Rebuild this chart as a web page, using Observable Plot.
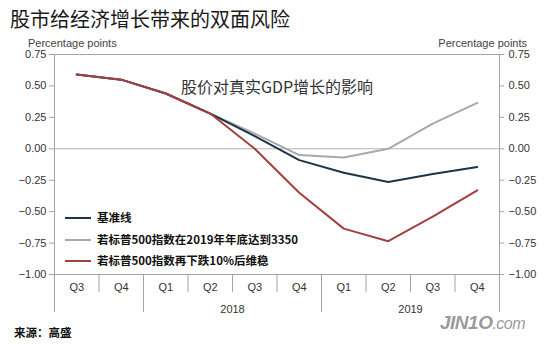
<!DOCTYPE html>
<html>
<head>
<meta charset="utf-8">
<script src="https://cdn.jsdelivr.net/npm/d3@7"></script>
<script src="https://cdn.jsdelivr.net/npm/@observablehq/plot@0.6"></script>
<style>
  body { margin: 0; background: #fff; }
  #wrap { position: relative; width: 550px; height: 344px; overflow: hidden; background: #fff; }
  #wrap svg { position: absolute; left: 0; top: 0; font-family: "Liberation Sans", Arial, sans-serif; }
  #wrap svg text.lat { font-family: "Liberation Sans", Arial, sans-serif; }
  .abs { position: absolute; white-space: nowrap; }
  .title { left: 10px; top: 9px; font: 400 20px/20px "Noto Sans CJK SC", sans-serif; color: #1a1a1a; }
  .pp { top: 36px; font: 400 11px/14px "Liberation Sans", Arial, sans-serif; color: #444; }
  .legend { left: 65px; font: 700 11.5px/14px "Noto Sans CJK SC", sans-serif; color: #111; }
  .legend .sw { display: inline-block; width: 26px; height: 2px; vertical-align: middle; margin-right: 6px; position: relative; top: -1px; }
  .source { left: 14px; top: 325px; font: 700 11.5px/14px "Noto Sans CJK SC", sans-serif; color: #111; }
  .logo { left: 440px; top: 313px; font: italic 700 19px/20px "Liberation Sans", Arial, sans-serif; color: #9b9b9b; letter-spacing: -0.5px; }
  .logo small { font: italic 400 16px/20px "Liberation Sans", Arial, sans-serif; color: #9b9b9b; }
</style>
</head>
<body>
<div id="wrap"></div>
<script>
// ---- data ----
const title = "股市给经济增长带来的双面风险";
const subtitle = "股价对真实GDP增长的影响";
const axisLabel = "Percentage points";
const source = "来源：高盛";
const quarters = ["Q3", "Q4", "Q1", "Q2", "Q3", "Q4", "Q1", "Q2", "Q3", "Q4"];
const years = [2017, 2017, 2018, 2018, 2018, 2018, 2019, 2019, 2019, 2019];
const yearLabels = ["", "2018", "2019"];
const yTicks = [0.75, 0.5, 0.25, 0, -0.25, -0.5, -0.75, -1];
const seriesNames = ["基准线", "若标普500指数在2019年年底达到3350", "若标普500指数再下跌10%后维稳"];
const baseline = [0.59, 0.55, 0.44, 0.28, 0.10, -0.09, -0.19, -0.265, -0.20, -0.145];
const spx3350 = [0.59, 0.55, 0.44, 0.28, 0.12, -0.05, -0.07, 0.00, 0.20, 0.365];
const drop10 = [0.59, 0.55, 0.44, 0.28, 0.00, -0.35, -0.635, -0.735, -0.54, -0.33];
const colors = ["#1d3449", "#a9a9a9", "#a2403f"];

// ---- derived tables ----
const seriesValues = [baseline, spx3350, drop10];
const rows = seriesValues.flatMap((vals, s) => vals.map((v, i) => ({s, i, v})));
const qRows = quarters.map((q, i) => ({q, i}));
const n = quarters.length;
const shortSeps = [], longSeps = [];
for (let b = 0; b <= n; b++) {
  const pos = b - 0.5;
  if (b === 0 || b === n || years[b] !== years[b - 1]) longSeps.push(pos);
  else shortSeps.push(pos);
}
const yearGroups = d3.groups(quarters.map((q, i) => ({i, y: years[i]})), d => d.y)
  .map(([y, arr], k) => ({label: yearLabels[k], x: d3.mean(arr, d => d.i)}))
  .filter(d => d.label);

const fmt = d3.format(".2f");
const axisColor = "#a3a3a3";
const latin = "Liberation Sans, Arial, sans-serif";

const chart = Plot.plot({
  width: 550,
  height: 344,
  marginTop: 54,
  marginBottom: 70,
  marginLeft: 54,
  marginRight: 51,
  x: {domain: [-0.5, n - 0.5], axis: null},
  y: {domain: [-1, 0.75], axis: null},
  style: {fontSize: "11px", color: "#333", background: "transparent"},
  marks: [
    Plot.frame({stroke: axisColor}),
    Plot.ruleY([0], {stroke: "#b3b3b3", strokeWidth: 1}),
    // y ticks both sides
    Plot.ruleY(yTicks, {x1: -0.5, x2: -0.5, insetLeft: -5, stroke: axisColor}),
    Plot.ruleY(yTicks, {x1: n - 0.5, x2: n - 0.5, insetRight: -5, stroke: axisColor}),
    Plot.text(yTicks, {x: -0.5, y: d => d, dx: -8, textAnchor: "end", text: d => fmt(d), fill: "#333", fontFamily: latin, fontSize: 11}),
    Plot.text(yTicks, {x: n - 0.5, y: d => d, dx: 9, textAnchor: "start", text: d => fmt(d), fill: "#333", fontFamily: latin, fontSize: 11}),
    // x axis separators
    Plot.ruleX(shortSeps, {x: d => d, y1: -1, y2: -1, insetBottom: -18, stroke: axisColor}),
    Plot.ruleX(longSeps, {x: d => d, y1: -1, y2: -1, insetBottom: -38, stroke: axisColor}),
    Plot.text(qRows, {x: "i", y: -1, dy: 13, text: "q", fill: "#333", fontFamily: latin, fontSize: 11}),
    Plot.text(yearGroups, {x: "x", y: -1, dy: 35, text: "label", fill: "#333", fontFamily: latin, fontSize: 11}),
    // subtitle
    Plot.text([subtitle], {frameAnchor: "top", dy: 27, text: d => d, fontSize: 16, fill: "#333",
      fontFamily: "Noto Sans CJK SC, sans-serif"}),
    // series lines
    Plot.line(rows.filter(d => d.s === 1), {x: "i", y: "v", stroke: colors[1], strokeWidth: 2}),
    Plot.line(rows.filter(d => d.s === 0), {x: "i", y: "v", stroke: colors[0], strokeWidth: 2}),
    Plot.line(rows.filter(d => d.s === 2), {x: "i", y: "v", stroke: colors[2], strokeWidth: 2})
  ]
});

const wrap = document.getElementById("wrap");
wrap.appendChild(chart);

function addDiv(cls, html, style) {
  const d = document.createElement("div");
  d.className = "abs " + cls;
  d.innerHTML = html;
  if (style) Object.assign(d.style, style);
  wrap.appendChild(d);
  return d;
}
addDiv("title", title);
addDiv("pp", axisLabel, {left: "28px"});
addDiv("pp", axisLabel, {right: "23px"});
const legendTops = [210, 232, 253];
seriesNames.forEach((name, k) => {
  addDiv("legend", `<span class="sw" style="background:${colors[k]}"></span>${name}`, {top: legendTops[k] + "px"});
});
addDiv("source", source);
addDiv("logo", `JIN1O<small>.com</small>`);
</script>
</body>
</html>
